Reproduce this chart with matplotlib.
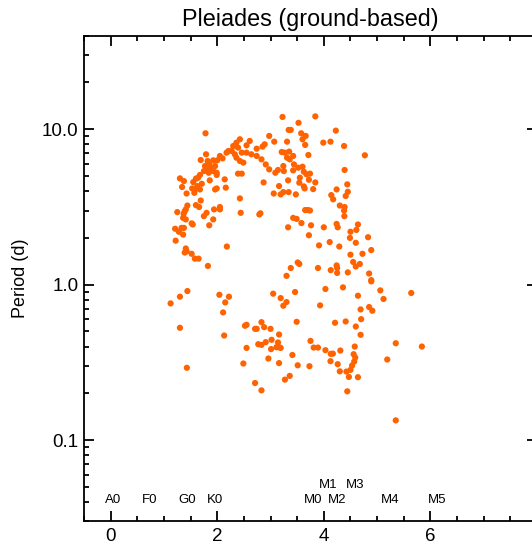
import numpy as np
import matplotlib
matplotlib.use("Agg")
import matplotlib.pyplot as plt
from matplotlib.ticker import MultipleLocator, LogLocator, FixedLocator, FixedFormatter, NullFormatter

plt.rcParams['font.family'] = ['Liberation Sans', 'DejaVu Sans']

# colour index (x) and rotation period in days
color_idx = [
    1.78, 2.175, 2.21, 2.05, 2.10, 2.00, 1.925, 1.82, 1.79, 1.69, 1.85, 1.77, 1.89, 1.80, 1.925,
    1.99, 1.84, 1.96, 1.75, 1.675, 1.64, 1.60, 1.55, 1.625, 1.53, 1.57, 1.425, 1.34, 1.30, 1.375,
    1.58, 1.675, 1.71, 1.86, 1.99, 2.14, 2.16, 1.96, 1.99, 2.05, 2.05, 1.94, 1.80, 1.75, 1.69,
    1.60, 1.66, 1.925, 1.85, 1.44, 1.41, 1.37, 1.36, 1.41, 1.39, 1.25, 1.52, 1.54, 1.33, 1.21,
    1.28, 1.36, 1.375, 1.22, 2.18, 1.41, 1.425, 1.39, 1.52, 1.58, 1.65, 1.825,
    3.225, 3.84, 3.525, 3.34, 3.38, 3.575, 3.66, 3.60, 3.65, 2.975, 3.07, 3.31, 2.89, 2.85, 2.74,
    2.61, 2.55, 2.425, 2.36, 2.30, 2.39, 2.27, 2.33, 2.46, 2.55, 2.64, 2.74, 2.36, 2.425, 2.49,
    2.83, 2.91, 2.975, 3.09, 3.14, 3.25, 3.24, 3.21, 3.27, 3.35, 3.425, 3.31, 3.36, 3.44, 3.52,
    3.60, 3.625, 3.675, 3.74, 3.71, 3.425, 3.55, 3.72, 3.84, 3.625, 3.64, 3.80, 3.54, 3.33, 3.16,
    3.06, 3.19, 3.24, 3.34, 3.475, 2.87, 2.39, 2.46, 2.425, 2.44, 2.79, 2.81, 3.99, 4.125, 4.225,
    4.38, 4.77, 4.39, 4.24, 4.44, 4.45, 4.14, 4.175, 4.41, 4.30, 4.39, 4.38, 4.385, 3.65, 3.70,
    3.74, 3.425, 3.49, 3.58, 3.33, 3.76, 3.72, 4.00, 4.24, 4.26, 4.64, 4.61, 4.50, 4.49, 4.83,
    4.60, 4.11, 4.29, 3.91, 4.50, 4.725, 4.89, 4.55, 4.60, 4.675, 4.24, 4.25, 4.13, 4.25, 4.45,
    3.38, 3.51, 3.54, 3.89, 3.30, 4.85, 4.89,
    1.125, 1.30, 1.44, 1.30, 1.43, 2.04, 2.22, 2.15, 2.11, 2.13,
    3.05, 3.19, 3.30, 3.24, 3.46, 4.03, 4.36, 4.64, 4.89, 5.06, 5.12, 5.64, 3.93, 4.69, 4.85,
    4.91, 2.55, 2.52, 2.83, 2.88, 3.00, 2.71, 2.74, 3.16, 3.49, 4.21, 4.41, 4.60, 4.70, 4.69,
    3.02, 2.91, 2.77, 2.83, 3.14, 3.16, 3.11, 3.19, 3.01, 2.55, 2.49, 2.96, 3.16, 3.41, 3.51,
    3.73, 3.75, 3.81, 3.89, 4.03, 4.13, 4.17, 4.31, 4.125, 4.26, 4.30, 4.425, 4.50, 4.53, 4.57,
    4.59, 4.56, 4.58, 4.47, 4.64, 3.27, 3.36, 2.71, 2.83, 4.44, 5.35, 5.84, 5.19, 5.35,
]
period = [
    9.42, 7.07, 7.25, 6.73, 6.50, 6.31, 6.31, 6.25, 6.90, 6.34, 5.94, 5.80, 5.66, 5.52, 5.38,
    5.25, 5.25, 5.80, 5.38, 5.08, 4.88, 4.81, 4.57, 4.31, 4.16, 3.90, 3.86, 4.25, 4.83, 4.64,
    4.10, 4.10, 4.46, 4.69, 5.08, 4.76, 4.21, 4.10, 4.16, 3.16, 3.05, 3.05, 2.90, 2.76, 3.48,
    3.25, 3.16, 2.63, 2.41, 3.23, 3.05, 2.86, 2.69, 2.63, 2.97, 2.93, 2.48, 2.44, 2.32, 2.29,
    2.19, 2.10, 2.32, 1.92, 1.76, 1.71, 1.64, 1.61, 1.58, 1.47, 1.47, 1.32,
    12.0, 12.1, 11.0, 9.9, 9.9, 9.42, 9.06, 8.62, 7.93, 9.06, 8.32, 8.32, 8.0, 7.73, 7.50,
    8.41, 7.88, 8.62, 8.20, 7.80, 7.62, 7.25, 6.90, 7.07, 7.07, 6.90, 6.73, 6.56, 6.25, 6.10,
    6.40, 5.94, 5.52, 5.25, 5.47, 5.38, 5.80, 7.14, 7.07, 7.18, 6.73, 6.56, 6.40, 5.94, 5.66,
    5.74, 5.33, 5.13, 5.18, 6.83, 5.44, 4.88, 4.73, 4.55, 4.29, 4.16, 4.12, 4.53, 4.69, 4.31,
    3.86, 3.81, 3.94, 3.94, 3.81, 4.55, 5.18, 5.18, 3.59, 2.90, 2.83, 2.88, 8.20, 8.32, 9.8,
    7.80, 6.80, 5.47, 4.10, 4.42, 3.96, 3.77, 3.54, 3.72, 3.23, 3.16, 3.00, 2.76, 3.02, 3.02,
    3.00, 2.69, 2.65, 2.49, 2.34, 2.41, 2.08, 2.34, 2.46, 2.34, 2.44, 2.25, 2.19, 2.00, 2.02,
    1.86, 1.88, 1.76, 1.79, 1.56, 1.58, 1.67, 1.40, 1.31, 1.36, 1.33, 1.28, 1.24, 1.19, 1.20,
    1.28, 1.39, 1.36, 1.28, 1.14, 1.18, 1.07,
    0.758, 0.837, 0.910, 0.528, 0.292, 0.861, 0.837, 0.769, 0.663, 0.471,
    0.875, 0.820, 0.773, 0.732, 0.897, 0.938, 0.961, 0.849, 1.05, 0.919, 0.809, 0.884, 0.736, 0.693, 0.718,
    0.680, 0.552, 0.544, 0.574, 0.533, 0.520, 0.520, 0.520, 0.478, 0.577, 0.569, 0.580, 0.538, 0.600, 0.476,
    0.442, 0.427, 0.414, 0.410, 0.425, 0.396, 0.396, 0.392, 0.385, 0.392, 0.311, 0.335, 0.313, 0.353, 0.303,
    0.299, 0.435, 0.394, 0.394, 0.379, 0.359, 0.360, 0.377, 0.322, 0.308, 0.277, 0.276, 0.283, 0.302, 0.320,
    0.340, 0.357, 0.400, 0.255, 0.254, 0.245, 0.259, 0.233, 0.209, 0.206, 0.420, 0.400, 0.330, 0.134,
]

# spectral type markers along the bottom
sp_names = ['A0', 'F0', 'G0', 'K0', 'M0', 'M1', 'M2', 'M3', 'M4', 'M5']
sp_x = [0.04, 0.73, 1.43, 1.95, 3.79, 4.08, 4.25, 4.59, 5.24, 6.12]
sp_row = [0, 0, 0, 0, 0, 1, 0, 1, 0, 0]

fig = plt.figure(figsize=(5.32, 5.47), dpi=100)
ax = fig.add_axes([0.1579, 0.0468, 0.8515, 0.888])

ax.scatter(color_idx, period, s=20, color='#ff6200', edgecolors='none', zorder=3)

ax.set_yscale('log')
ax.set_xlim(-0.5, 8)
ax.set_ylim(0.03, 40)

for name, xx, row in zip(sp_names, sp_x, sp_row):
    ax.text(xx, 0.0515 if row else 0.0414, name, ha='center', va='center', fontsize=9.5)

ax.xaxis.set_major_locator(MultipleLocator(2))
ax.xaxis.set_minor_locator(MultipleLocator(0.5))
ax.xaxis.set_major_formatter(plt.FuncFormatter(lambda v, p: '%d' % v if v < 7 else ''))

ax.yaxis.set_major_locator(FixedLocator([0.1, 1.0, 10.0]))
ax.yaxis.set_major_formatter(FixedFormatter(['0.1', '1.0', '10.0']))
ax.yaxis.set_minor_locator(LogLocator(base=10, subs=np.arange(2, 10)))
ax.yaxis.set_minor_formatter(NullFormatter())

ax.tick_params(which='both', direction='in', top=True, right=True, width=1.3, labelsize=13.5)
ax.tick_params(axis='x', pad=4.5)
ax.tick_params(axis='y', pad=4)
ax.tick_params(which='major', length=7)
ax.tick_params(which='minor', length=3.6)
for s in ax.spines.values():
    s.set_linewidth(1.3)

ax.set_ylabel('Period (d)', fontsize=13, labelpad=9)
ax.set_title('Pleiades (ground-based)', fontsize=16.8, pad=7)

fig.savefig('out.png', dpi=100)
